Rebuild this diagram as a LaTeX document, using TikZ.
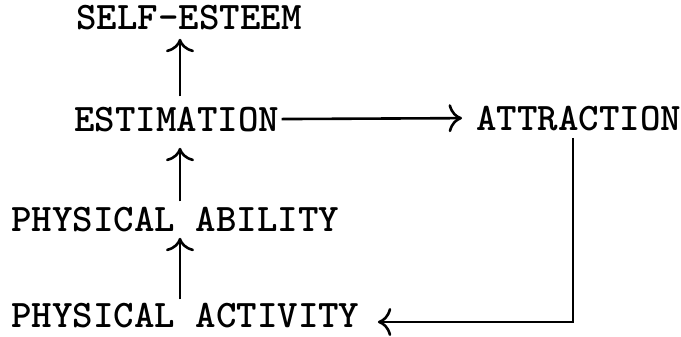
\documentclass[tikz,border=0pt]{standalone}
\usepackage{tikz}
\usetikzlibrary{arrows.meta}

\begin{document}
\begin{tikzpicture}[x=0.5pt,y=-0.5pt]
\tikzstyle{every node}+=[inner sep=0pt]
\tikzstyle{lbl}=[anchor=base west,font=\fontsize{19.5}{22}\selectfont\ttfamily\bfseries]
\tikzstyle{flow}=[-{To[scale=1.5]},line width=1.3pt]
\useasboundingbox (0,0) rectangle (681,337);
\node [lbl] (selfest) at (76,29) {SELF-ESTEEM};
\node [lbl] (estim) at (74,131) {ESTIMATION};
\node [lbl] (attract) at (476,130) {ATTRACTION};
\node [lbl] (ability) at (11,231) {PHYSICAL ABILITY};
\node [lbl] (activity) at (11,327) {PHYSICAL ACTIVITY};
\coordinate (spine) at (180,0);
\coordinate (turn) at (573,322);
% upward chain
\draw [flow,shorten <=5pt,shorten >=4.5pt] (estim.north -| spine) -- (selfest.south -| spine);
\draw [flow,shorten <=2.5pt,shorten >=8pt] (ability.north -| spine) -- (estim.south -| spine);
\draw [flow,shorten <=1.5pt,shorten >=3pt] (activity.north -| spine) -- (ability.south -| spine);
% estimation to attraction
\draw [flow,shorten <=1pt,shorten >=7pt] (estim.east) -- (attract.west);
% feedback loop
\draw [flow,shorten <=3.5pt,shorten >=9pt] (attract.south -| turn) -- (turn) -- (activity.east |- turn);
\end{tikzpicture}
\end{document}
